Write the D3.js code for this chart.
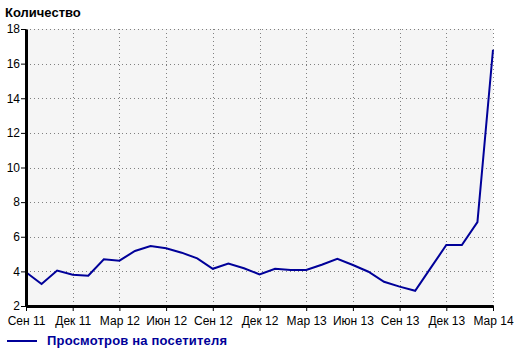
<!DOCTYPE html>
<html>
<head>
<meta charset="utf-8">
<script src="https://cdn.jsdelivr.net/npm/d3@7"></script>
<style>
  body { margin: 0; background: #fff; }
  svg { font-family: "Liberation Sans", Arial, sans-serif; }
</style>
</head>
<body>
<svg id="chart" width="520" height="353"></svg>
<script>
// months from Sep 2011 to Mar 2014
var months = d3.range(31)
var values = [3.95, 3.27, 4.05, 3.8, 3.75, 4.7, 4.62, 5.18, 5.46, 5.33, 5.08, 4.75,
              4.15, 4.45, 4.18, 3.83, 4.15, 4.08, 4.08, 4.38, 4.72, 4.37, 3.98, 3.4,
              3.12, 2.88, 4.2, 5.52, 5.52, 6.85, 16.8]
var tickMonths = [0, 3, 6, 9, 12, 15, 18, 21, 24, 27, 30]
var tickLabels = ["Сен 11", "Дек 11", "Мар 12", "Июн 12", "Сен 12", "Дек 12",
                  "Мар 13", "Июн 13", "Сен 13", "Дек 13", "Мар 14"]
var yTicks = [2, 4, 6, 8, 10, 12, 14, 16, 18]
var seriesName = "Просмотров на посетителя"

var dimensions = {
    width: 520,
    height: 353,
    margin: { top: 29, bottom: 47, left: 26, right: 27 }
}
var innerW = dimensions.width - dimensions.margin.left - dimensions.margin.right
var innerH = dimensions.height - dimensions.margin.top - dimensions.margin.bottom

var svg = d3.select("#chart")

var xScale = d3.scaleLinear().domain([0, 30]).range([0, innerW])
var yScale = d3.scaleLinear().domain([2, 18]).range([innerH, 0])

var g = svg.append("g")
    .attr("transform", "translate(" + dimensions.margin.left + "," + dimensions.margin.top + ")")

g.append("rect")
    .attr("width", innerW).attr("height", innerH)
    .attr("fill", "#f5f5f5")

// grid
g.selectAll(".hgrid").data(yTicks.slice(1)).enter().append("line")
    .attr("x1", 0).attr("x2", innerW)
    .attr("y1", d => Math.round(yScale(d)) + 0.5).attr("y2", d => Math.round(yScale(d)) + 0.5)
    .attr("stroke", "#808080").attr("stroke-dasharray", "1,3")
g.selectAll(".vgrid").data(tickMonths.slice(1)).enter().append("line")
    .attr("x1", d => Math.round(xScale(d)) + 0.5).attr("x2", d => Math.round(xScale(d)) + 0.5)
    .attr("y1", 0).attr("y2", innerH)
    .attr("stroke", "#808080").attr("stroke-dasharray", "1,3")

// line
var line = d3.line()
    .x(function(d, i) { return xScale(months[i]) })
    .y(function(d) { return yScale(d) })
g.append("path")
    .datum(values)
    .attr("d", line)
    .attr("fill", "none")
    .attr("stroke", "#000099")
    .attr("stroke-width", 2)

// axes
var xAxis = d3.axisBottom(xScale)
    .tickValues(tickMonths)
    .tickFormat(function(d, i) { return tickLabels[i] })
    .tickSize(5).tickSizeOuter(0)
var xg = g.append("g")
    .attr("transform", "translate(0," + innerH + ")")
    .call(xAxis)
xg.select(".domain").attr("stroke-width", 3)
xg.selectAll("text").style("font-size", "12px").attr("fill", "#000").attr("dy", "0.95em")

var yAxis = d3.axisLeft(yScale)
    .tickValues(yTicks)
    .tickSize(5).tickSizeOuter(0)
var yg = g.append("g").call(yAxis)
yg.select(".domain").attr("stroke-width", 3)
yg.selectAll("text").style("font-size", "12px").attr("fill", "#000").attr("x", -6)

// title
svg.append("text")
    .attr("x", 5).attr("y", 17)
    .style("font-size", "13px").style("font-weight", "bold")
    .text("Количество")

// legend
svg.append("line")
    .attr("x1", 7).attr("x2", 37).attr("y1", 341).attr("y2", 341)
    .attr("stroke", "#000099").attr("stroke-width", 2)
svg.append("text")
    .attr("x", 47).attr("y", 345)
    .style("font-size", "13px").style("font-weight", "bold")
    .attr("fill", "#000099")
    .attr("textLength", 180)
    .text(seriesName)
</script>
</body>
</html>
